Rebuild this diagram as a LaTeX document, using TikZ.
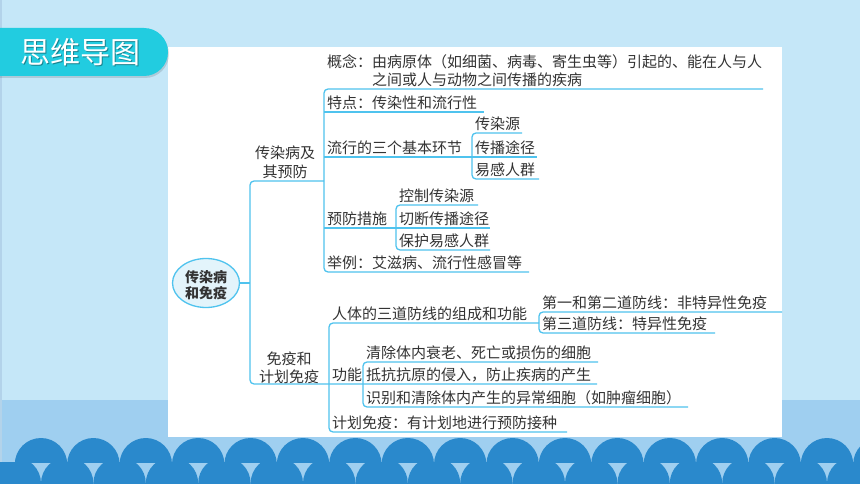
\documentclass[tikz,border=0pt]{standalone}
\usepackage{fontspec}
\usetikzlibrary{shapes.geometric}
\newfontfamily\cjk{Noto Sans CJK SC}
\definecolor{bgblue}{HTML}{C5E7F8}
\definecolor{bandblue}{HTML}{9FCFF0}
\definecolor{edgeblue}{HTML}{B3D3EA}
\definecolor{wave}{HTML}{2A89CC}
\definecolor{tab}{HTML}{22CCE0}
\definecolor{lineblue}{HTML}{4FC3EE}
\definecolor{rootfill}{HTML}{E3F4FB}
\definecolor{txt}{HTML}{333333}
\begin{document}
\begin{tikzpicture}[x=1pt,y=-1pt,
  ln/.style={draw=lineblue, line width=1.3pt, rounded corners=4pt},
  tx/.style={anchor=base west, inner sep=0pt, text=txt, font=\cjk\fontsize{15}{18}\selectfont},
  lbl/.style={anchor=base, inner sep=0pt, text=txt, font=\cjk\fontsize{15}{18}\selectfont},
]
\useasboundingbox (0,0) rectangle (860,484);
% background
\fill[bgblue] (0,0) rectangle (860,484);
\fill[bandblue] (0,400) rectangle (860,484);
\fill[edgeblue] (0,0) rectangle (2,484);
\fill[white] (168,47) rectangle (782,437);
% waves
\begin{scope}
  \clip (0,0) rectangle (860,462);
  \foreach \i in {0,...,16} \fill[wave] ({41+52.4*\i},464.2) circle (26.2);
\end{scope}
\begin{scope}
  \clip (0,462) rectangle (860,484);
  \foreach \i in {0,...,17} \fill[wave] ({14.8+52.4*\i},483.4) circle (26.2);
\end{scope}
% header tab
\fill[black, opacity=0.12] (0,30) -- (145,30) arc[start angle=-90, end angle=90, radius=24] -- (0,78) -- cycle;
\fill[tab] (0,28) -- (144,28) arc[start angle=-90, end angle=90, radius=24] -- (0,76) -- cycle;
\node[font=\cjk\fontsize{30}{30}\selectfont, text=black, opacity=0.35, inner sep=0] (titleshadow) at (81.2,53.2) {思维导图};
\node[font=\cjk\fontsize{30}{30}\selectfont, text=white, inner sep=0] (title) at (80,52) {思维导图};

% root
\node[ellipse, draw=lineblue, fill=rootfill, line width=1.3pt, minimum width=67pt, minimum height=49pt, inner sep=0pt] (root) at (206,283) {};
\node[align=center, inner sep=0pt, text=txt, font=\cjk\bfseries\fontsize{14}{16.5}\selectfont] (roottext) at (206,285) {传染病\\和免疫};
\draw[ln] (root.east) -- (250,283);

% main bracket
\draw[ln] (324,181) -- (250,181) -- (250,384) -- (597,384);

% branch 1 labels
\node[lbl] (b1a) at (285,159) {传染病及};
\node[lbl] (b1b) at (285,178) {其预防};

% branch 1 bracket and lines
\draw[ln] (763,89) -- (324,89) -- (324,272) -- (529,272);
\draw[ln] (324,112) -- (484,112);
\draw[ln] (324,157) -- (537,157);
\draw[ln] (324,228) -- (490,228);
\draw[ln] (522,133) -- (472,133) -- (472,179) -- (539,179);
\draw[ln] (478,205) -- (396,205) -- (396,250) -- (490,250);

\node[tx] (c1a) at (327,67.5) {概念：由病原体（如细菌、病毒、寄生虫等）引起的、能在人与人};
\node[tx] (c1b) at (372,85.5) {之间或人与动物之间传播的疾病};
\node[tx] (c2) at (327,108.5) {特点：传染性和流行性};
\node[tx] (c3) at (327,153.5) {流行的三个基本环节};
\node[tx] (c31) at (475,129.5) {传染源};
\node[tx] (c32) at (475,153.5) {传播途径};
\node[tx] (c33) at (475,175.5) {易感人群};
\node[tx] (c4) at (327,224.5) {预防措施};
\node[tx] (c41) at (399,201.5) {控制传染源};
\node[tx] (c42) at (399,224.5) {切断传播途径};
\node[tx] (c43) at (399,246.5) {保护易感人群};
\node[tx] (c5) at (327,268.5) {举例：艾滋病、流行性感冒等};

% branch 2 labels
\node[lbl] (b2a) at (289,364) {免疫和};
\node[lbl] (b2b) at (289,382.5) {计划免疫};

% branch 2 bracket and lines
\draw[ln] (539,323) -- (329,323) -- (329,432) -- (567,432);
\draw[ln] (782,312) -- (539,312) -- (539,333) -- (715,333);
\draw[ln] (598,362) -- (363,362) -- (363,407) -- (688,407);

\node[tx] (d1) at (332,319.5) {人体的三道防线的组成和功能};
\node[tx] (d11) at (542,308.5) {第一和第二道防线：非特异性免疫};
\node[tx] (d12) at (542,329.5) {第三道防线：特异性免疫};
\node[tx] (d2) at (332,380.5) {功能};
\node[tx] (d21) at (366,358.5) {清除体内衰老、死亡或损伤的细胞};
\node[tx] (d22) at (366,380.5) {抵抗抗原的侵入，防止疾病的产生};
\node[tx] (d23) at (366,403.5) {识别和清除体内产生的异常细胞（如肿瘤细胞）};
\node[tx] (d3) at (332,428.5) {计划免疫：有计划地进行预防接种};
\end{tikzpicture}
\end{document}
